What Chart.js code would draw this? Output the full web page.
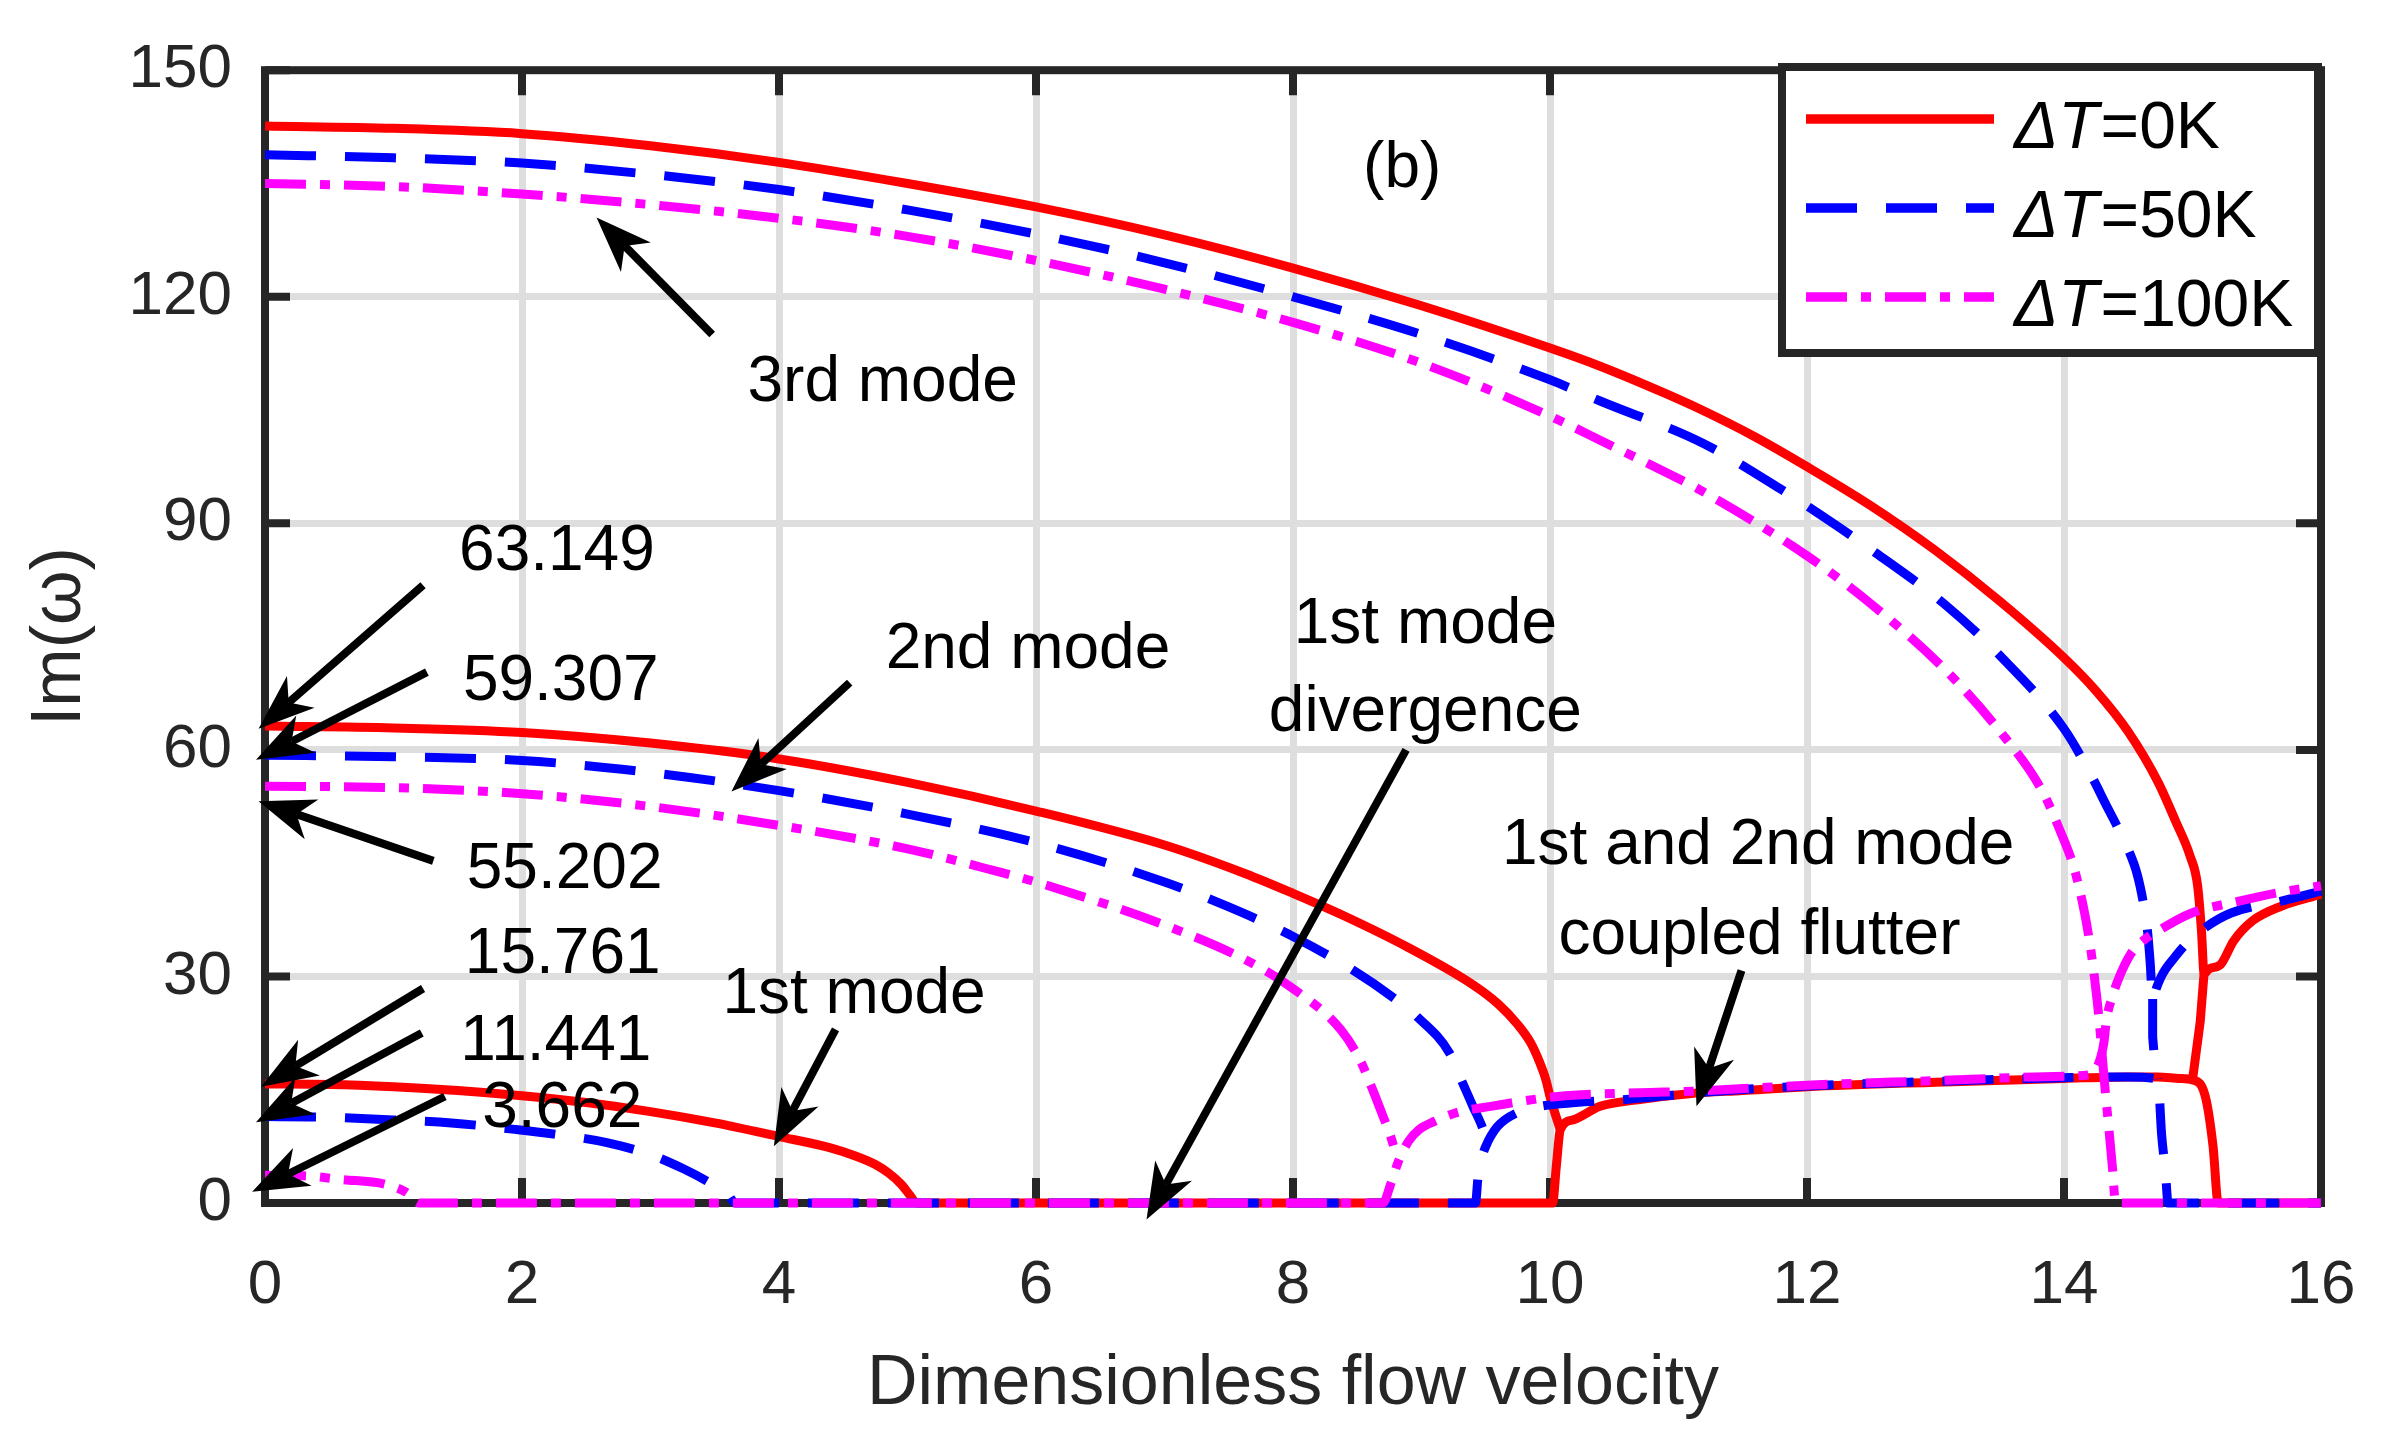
<!DOCTYPE html>
<html>
<head>
<meta charset="utf-8">
<script src="https://cdn.jsdelivr.net/npm/chart.js@4.4.0/dist/chart.umd.min.js"></script>
<style>
  html, body { margin: 0; padding: 0; background: #fff; }
  canvas { display: block; }
</style>
</head>
<body>
<canvas id="chart" width="2407" height="1437"></canvas>
<script>
// ticks
const xTicks = [0, 2, 4, 6, 8, 10, 12, 14, 16];
const yTicks = [0, 30, 60, 90, 120, 150];
const seriesLabels = ['0K', '50K', '100K'];

// dT = 0K  [velocity, Im(omega)]
const red1 = [[0, 15.76], [0.5, 15.7], [1, 15.4], [1.5, 14.9], [2, 14.2], [2.5, 13.3], [3, 12.1], [3.5, 10.6],
  [4, 8.8], [4.4, 7.3], [4.6, 6.2], [4.75, 5.1], [4.85, 4.0], [4.95, 2.5], [5.02, 1.0], [5.07, 0], [10.02, 0],
  [10.05, 5], [10.08, 9.7], [10.18, 11], [10.39, 12.8], [10.7, 13.7], [11.1, 14.5], [11.5, 14.9], [12, 15.4],
  [13, 16.0], [14, 16.5], [14.5, 16.7], [14.73, 16.7], [14.9, 16.5], [15.0, 16.3], [15.1, 14.1], [15.16, 7.5],
  [15.2, 0], [16, 0]];
const red2 = [[0, 63.15], [1, 62.9], [2, 62.3], [3, 60.9], [4, 58.8], [5, 55.7], [6, 51.9], [7, 47.4],
  [7.63, 43.6], [8, 41.0], [8.4, 38.0], [8.9, 33.8], [9.4, 28.9], [9.6, 26.3], [9.75, 23.6], [9.85, 21.2],
  [9.92, 18.6], [9.97, 16.2], [10.0, 14.1], [10.08, 9.7]];
const red3 = [[0, 142.6], [1, 142.3], [2, 141.6], [3, 140.0], [4, 137.8], [5, 135.0], [6, 131.9], [7, 128.2],
  [8, 123.8], [9, 118.8], [10, 113.2], [10.39, 110.8], [10.87, 107.4], [11.17, 105.1], [11.59, 101.5], [12, 97.5],
  [12.5, 92.3], [13, 86.4], [13.5, 79.7], [14, 72.2], [14.25, 67.8], [14.5, 62.4], [14.73, 55.8], [14.87, 50.5],
  [14.98, 46.0], [15.04, 42.0], [15.07, 36.0], [15.09, 30.4], [15.13, 31.0], [15.22, 31.6], [15.32, 34.7],
  [15.47, 37.4], [15.69, 39.3], [16, 40.9]];
const redLink = [[15.09, 30.4], [15.06, 24], [15.0, 16.3]];

// dT = 50K
const blue1 = [[0, 11.44], [0.41, 11.4], [1, 11.0], [1.45, 10.6], [1.97, 9.7], [2.3, 9.0], [2.66, 8.0], [3.0, 6.4],
  [3.26, 4.5], [3.45, 2.8], [3.6, 1.2], [3.66, 0], [9.42, 0], [9.44, 3.4], [9.47, 6], [9.5, 7.5], [9.59, 10.1],
  [9.75, 12], [9.92, 12.8], [10.2, 13.3], [10.59, 13.7], [11.15, 14.6], [12, 15.5], [13, 16.1], [14, 16.6],
  [14.5, 16.7], [14.73, 16.4], [14.76, 9], [14.79, 4], [14.81, 0], [16, 0]];
const blue2 = [[0, 59.3], [1, 59.1], [2, 58.6], [3, 57.0], [4, 54.6], [5, 51.5], [6, 47.7], [7, 42.5], [7.5, 39.2],
  [8, 35.3], [8.47, 30.8], [8.78, 27.2], [8.97, 24.6], [9.22, 19.8], [9.32, 15.9], [9.4, 12.8], [9.48, 9.7], [9.5, 8.5]];
const blue3 = [[0, 138.8], [1, 138.4], [2, 137.7], [3, 136.2], [4, 134.2], [5, 131.5], [6, 128.3], [7, 124.5],
  [8, 120.0], [9, 115.0], [10, 109.0], [10.39, 106.2], [11.19, 100.6], [11.79, 94.6], [12, 92.3], [12.5, 86.5],
  [13.07, 79.3], [13.5, 72.5], [14, 62.8], [14.2, 57], [14.34, 52.3], [14.41, 50.0], [14.5, 46.8], [14.57, 43.5],
  [14.62, 39.5], [14.65, 36.0], [14.67, 32], [14.69, 27], [14.72, 28.5], [14.77, 30.4], [14.86, 32.5], [14.95, 34.3],
  [15.06, 36.0], [15.3, 38.4], [15.7, 40.0], [16, 41.3]];
const blueLink = [[14.69, 27], [14.69, 22], [14.71, 18], [14.73, 16.4]];

// dT = 100K
const mag1 = [[0, 3.66], [0.3, 3.6], [0.6, 3.1], [0.93, 2.5], [1.1, 1.4], [1.2, 0], [8.7, 0], [8.76, 2.5],
  [8.82, 5.5], [8.9, 8.2], [8.98, 9.7], [9.1, 10.8], [9.28, 12], [9.54, 12.8], [10.06, 14.1], [10.7, 14.6],
  [11.1, 14.8], [12, 15.6], [13, 16.2], [14, 16.8], [14.2, 17.0], [14.27, 18.5], [14.31, 21.2], [14.33, 24.2],
  [14.38, 27.5], [14.42, 29.5], [14.52, 33], [14.62, 34.8], [14.73, 36], [14.98, 38.3], [15.37, 40], [15.7, 41.2], [16, 42]];
const mag2 = [[0, 55.2], [1, 55.0], [2, 54.2], [3, 52.5], [4, 50.0], [5, 46.9], [5.72, 43.8], [6, 42.5], [7, 36.8],
  [7.63, 32.2], [8, 28.4], [8.37, 23.0], [8.52, 19.0], [8.62, 15.0], [8.7, 11.5], [8.76, 8.8], [8.8, 6.5]];
const mag3 = [[0, 135.0], [1, 134.6], [2, 133.6], [3, 132.2], [4, 130.4], [5, 128.0], [6, 124.8], [7, 121.0],
  [8, 116.6], [9, 111.2], [10, 104.2], [10.39, 101.0], [10.99, 96.0], [11.17, 94.4], [12, 85.7], [12.5, 79.3],
  [13.07, 70.7], [13.5, 62.5], [13.82, 54.9], [13.95, 50.1], [14.1, 43.0], [14.2, 34.5], [14.26, 26.5], [14.29, 21],
  [14.32, 15], [14.35, 9.7], [14.38, 4.1], [14.4, 0], [16, 0]];

const FONT = '"Liberation Sans", Arial, sans-serif';
const styles = [
    { color: '#ff0000', dash: [], order: 3 },
    { color: '#0000ff', dash: [51, 29], order: 2 },
    { color: '#ff00ff', dash: [41, 14, 10, 14], order: 1 }
];

function makeSet(points, s, smooth) {
    return {
        data: points.map(p => ({ x: p[0], y: p[1] })),
        borderColor: s.color,
        borderWidth: 9,
        borderDash: s.dash,
        borderJoinStyle: 'round',
        pointRadius: 0,
        tension: 0,
        cubicInterpolationMode: smooth ? 'monotone' : 'default',
        fill: false,
        clip: 12,
        order: s.order
    };
}

const datasets = [
    makeSet(red1, styles[0], true), makeSet(red2, styles[0], true), makeSet(red3, styles[0], true), makeSet(redLink, styles[0], false),
    makeSet(blue1, styles[1], true), makeSet(blue2, styles[1], true), makeSet(blue3, styles[1], true), makeSet(blueLink, styles[1], false),
    makeSet(mag1, styles[2], true), makeSet(mag2, styles[2], true), makeSet(mag3, styles[2], true)
];

// annotation arrows: [tailX, tailY, tipX, tipY] in data units
const arrows = [
    [3.48, 115, 2.58, 130.5],
    [1.23, 81.8, -0.05, 62.8],
    [1.26, 70.3, -0.07, 58.7],
    [1.31, 45.3, -0.05, 53.2],
    [1.23, 28.4, -0.03, 15.4],
    [1.22, 22.5, -0.07, 10.7],
    [1.40, 14.1, -0.1, 1.5],
    [4.55, 68.9, 3.63, 54.5],
    [4.44, 23, 3.96, 7.5],
    [8.88, 60, 6.86, -2.2],
    [11.49, 30.8, 11.14, 12.8]
];
// annotation texts: [text, x, y, align]
const notes = [
    ['3rd mode', 3.755, 106.2, 'left'],
    ['63.149', 1.51, 83.8, 'left'],
    ['59.307', 1.54, 66.6, 'left'],
    ['55.202', 1.57, 41.7, 'left'],
    ['15.761', 1.555, 30.4, 'left'],
    ['11.441', 1.52, 18.9, 'left'],
    ['3.662', 1.69, 10.1, 'left'],
    ['2nd mode', 4.83, 70.9, 'left'],
    ['1st mode', 3.56, 25.1, 'left'],
    ['1st mode', 9.03, 74.1, 'center'],
    ['divergence', 9.03, 62.5, 'center'],
    ['1st and 2nd mode', 11.62, 44.9, 'center'],
    ['coupled flutter', 11.63, 33.0, 'center'],
    ['(b)', 8.85, 134.6, 'center']
];

// axes box with inner ticks, under the data
const framePlugin = {
    id: 'frame',
    beforeDatasetsDraw(chart) {
        const { ctx, chartArea: a, scales: { x, y } } = chart;
        ctx.save();
        ctx.strokeStyle = '#262626';
        ctx.lineWidth = 8;
        ctx.strokeRect(a.left, a.top, a.right - a.left, a.bottom - a.top);
        ctx.beginPath();
        xTicks.forEach(v => {
            const px = x.getPixelForValue(v);
            ctx.moveTo(px, a.bottom); ctx.lineTo(px, a.bottom - 25);
            ctx.moveTo(px, a.top); ctx.lineTo(px, a.top + 25);
        });
        yTicks.forEach(v => {
            const py = y.getPixelForValue(v);
            ctx.moveTo(a.left, py); ctx.lineTo(a.left + 25, py);
            ctx.moveTo(a.right, py); ctx.lineTo(a.right - 25, py);
        });
        ctx.stroke();
        ctx.restore();
    }
};

function drawArrow(ctx, x1, y1, x2, y2) {
    const ang = Math.atan2(y2 - y1, x2 - x1);
    const len = 56, half = 21, inset = 40;
    const cos = Math.cos(ang), sin = Math.sin(ang);
    ctx.beginPath();
    ctx.moveTo(x1, y1);
    ctx.lineTo(x2 - cos * inset, y2 - sin * inset);
    ctx.stroke();
    ctx.beginPath();
    ctx.moveTo(x2, y2);
    ctx.lineTo(x2 - cos * len - sin * half, y2 - sin * len + cos * half);
    ctx.lineTo(x2 - cos * inset, y2 - sin * inset);
    ctx.lineTo(x2 - cos * len + sin * half, y2 - sin * len - cos * half);
    ctx.closePath();
    ctx.fill();
}

const notesPlugin = {
    id: 'notes',
    afterDatasetsDraw(chart) {
        const { ctx, scales: { x, y } } = chart;
        ctx.save();
        ctx.strokeStyle = '#000';
        ctx.fillStyle = '#000';
        ctx.lineWidth = 8;
        arrows.forEach(a => drawArrow(ctx, x.getPixelForValue(a[0]), y.getPixelForValue(a[1]),
            x.getPixelForValue(a[2]), y.getPixelForValue(a[3])));
        ctx.font = '64px ' + FONT;
        ctx.textBaseline = 'alphabetic';
        notes.forEach(n => {
            ctx.textAlign = n[3];
            ctx.fillText(n[0], x.getPixelForValue(n[1]), y.getPixelForValue(n[2]));
        });
        ctx.restore();
    }
};

const legendPlugin = {
    id: 'boxLegend',
    afterDraw(chart) {
        const { ctx } = chart;
        const bx = 1782, by = 67, bw = 2318 - 1782, bh = 353 - 67;
        ctx.save();
        ctx.fillStyle = '#fff';
        ctx.fillRect(bx, by, bw, bh);
        ctx.strokeStyle = '#262626';
        ctx.lineWidth = 8;
        ctx.strokeRect(bx, by, bw, bh);
        const rowY = [119, 208, 297];
        seriesLabels.forEach((lab, i) => {
            const s = styles[i];
            ctx.strokeStyle = s.color;
            ctx.lineWidth = 9.5;
            ctx.setLineDash(s.dash);
            ctx.beginPath();
            ctx.moveTo(1806, rowY[i]);
            ctx.lineTo(1994, rowY[i]);
            ctx.stroke();
            ctx.setLineDash([]);
            ctx.fillStyle = '#000';
            ctx.textAlign = 'left';
            ctx.textBaseline = 'alphabetic';
            const base = rowY[i] + 29;
            ctx.font = 'italic 66px ' + FONT;
            ctx.fillText('\u0394T', 2014, base);
            const w = ctx.measureText('\u0394T').width;
            ctx.font = '66px ' + FONT;
            ctx.fillText('=' + lab, 2014 + w + 2, base);
        });
        ctx.restore();
    }
};

new Chart(document.getElementById('chart').getContext('2d'), {
    type: 'line',
    data: { datasets: datasets },
    options: {
        responsive: false,
        animation: false,
        devicePixelRatio: 1,
        layout: { padding: { left: 0, right: 86, top: 63, bottom: 0 } },
        plugins: { legend: { display: false }, tooltip: { enabled: false } },
        scales: {
            x: {
                type: 'linear', min: 0, max: 16,
                afterBuildTicks: s => { s.ticks = xTicks.map(v => ({ value: v })); },
                afterFit: s => { s.height = 234; },
                grid: { color: '#dedede', lineWidth: 7, drawTicks: false },
                border: { display: false },
                ticks: { color: '#262626', font: { family: FONT, size: 62 }, padding: 46, maxRotation: 0 },
                title: { display: true, text: 'Dimensionless flow velocity', color: '#262626',
                    font: { family: FONT, size: 70 }, padding: { top: 0, bottom: 10 } }
            },
            y: {
                type: 'linear', min: 0, max: 150,
                afterBuildTicks: s => { s.ticks = yTicks.map(v => ({ value: v })); },
                afterFit: s => { s.width = 265; },
                grid: { color: '#dedede', lineWidth: 7, drawTicks: false },
                border: { display: false },
                ticks: { color: '#262626', font: { family: FONT, size: 62 }, padding: 33 },
                title: { display: true, text: 'Im(\u03c9)', color: '#262626',
                    font: { family: FONT, size: 70 }, padding: { top: 19, bottom: 0 } }
            }
        }
    },
    plugins: [framePlugin, notesPlugin, legendPlugin]
});
</script>
</body>
</html>
